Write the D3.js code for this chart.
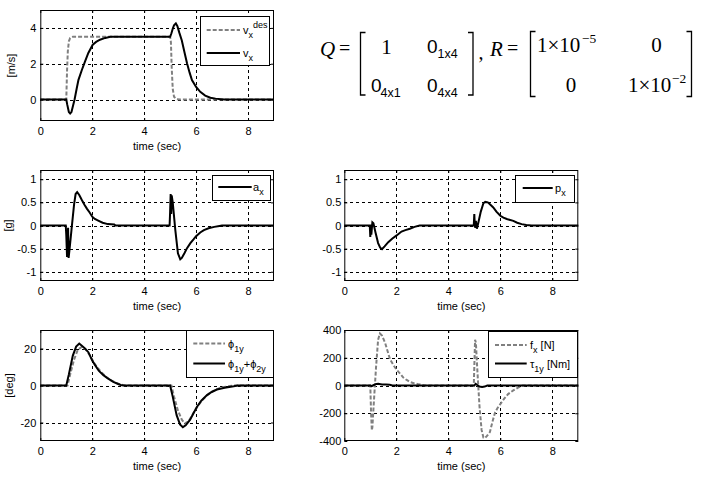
<!DOCTYPE html>
<html><head><meta charset="utf-8">
<script src="https://cdn.jsdelivr.net/npm/d3@7"></script>
<style>
body{margin:0;background:#fff}
svg{display:block}
text{font-family:"Liberation Sans",Arial,sans-serif;fill:#000}
</style>
</head><body>
<svg id="c" width="705" height="481"></svg>
<script>
// ---------- data ----------
const xTicks = [0, 2, 4, 6, 8];
const velTicks = [0, 2, 4];
const accTicks = [-1, -0.5, 0, 0.5, 1];
const angTicks = [-20, 0, 20];
const frcTicks = [-400, -200, 0, 200, 400];

// [time (sec), value]
const vxDes = [[0,0],[1.0,0],[1.03,1.6],[1.06,2.7],[1.1,3.25],[1.15,3.44],[1.25,3.5],[5.0,3.5],[5.03,3.2],[5.06,1.8],[5.1,0.6],[5.15,0.15],[5.25,0.02],[5.4,0],[9,0]];
const vx = [[0,0],[1.0,0],[1.04,-0.3],[1.1,-0.7],[1.15,-0.78],[1.2,-0.7],[1.26,-0.35],[1.32,0],[1.4,0.6],[1.47,1.1],[1.6,1.65],[1.72,2.12],[1.85,2.6],[2.02,3.06],[2.15,3.22],[2.3,3.34],[2.5,3.44],[2.7,3.5],[5.0,3.5],[5.05,3.7],[5.1,3.95],[5.15,4.15],[5.22,4.25],[5.28,4.1],[5.35,3.75],[5.45,3.3],[5.55,2.65],[5.65,2.03],[5.75,1.5],[5.84,1.09],[6.0,0.7],[6.16,0.43],[6.35,0.22],[6.55,0.1],[6.75,0.05],[6.95,0.02],[7.1,0],[9,0]];
const ax = [[0,0],[0.98,0],[1.0,-0.2],[1.03,-0.68],[1.05,-0.3],[1.07,-0.05],[1.09,-0.7],[1.12,-0.55],[1.2,-0.1],[1.3,0.45],[1.36,0.68],[1.42,0.72],[1.5,0.66],[1.6,0.55],[1.7,0.45],[1.8,0.36],[1.9,0.28],[2.0,0.19],[2.1,0.14],[2.25,0.1],[2.4,0.06],[2.6,0.03],[2.85,0.02],[2.9,0],[4.98,0],[5.0,0.3],[5.02,0.68],[5.04,0.25],[5.06,0.65],[5.1,0.5],[5.2,-0.1],[5.3,-0.6],[5.39,-0.73],[5.45,-0.7],[5.55,-0.6],[5.65,-0.49],[5.78,-0.38],[5.9,-0.3],[6.0,-0.23],[6.16,-0.15],[6.3,-0.1],[6.48,-0.06],[6.7,-0.03],[6.9,-0.01],[7.0,0],[9,0]];
const px = [[0,0],[0.98,0],[1.0,-0.25],[1.02,0.02],[1.04,-0.2],[1.08,0.07],[1.12,0.05],[1.2,-0.15],[1.3,-0.38],[1.38,-0.48],[1.45,-0.51],[1.55,-0.45],[1.69,-0.36],[1.85,-0.28],[2.0,-0.22],[2.2,-0.13],[2.35,-0.1],[2.52,-0.07],[2.7,-0.03],[2.9,0],[4.98,0],[5.0,0.25],[5.02,0.0],[5.04,-0.05],[5.06,0.1],[5.1,-0.07],[5.15,0.05],[5.25,0.3],[5.35,0.48],[5.42,0.51],[5.52,0.5],[5.6,0.46],[5.73,0.39],[5.85,0.3],[6.0,0.21],[6.12,0.17],[6.25,0.14],[6.5,0.1],[6.65,0.06],[6.82,0.03],[7.0,0.01],[7.2,0],[9,0]];
const phi1y = [[0,0],[1.05,0],[1.15,6],[1.3,14],[1.45,19.5],[1.6,20.8],[1.75,19.5],[1.9,16.5],[2.1,11.5],[2.3,8],[2.5,5],[2.7,3],[2.9,1.5],[3.1,0.5],[3.3,0],[5.05,0],[5.15,-6],[5.3,-13.5],[5.45,-18.5],[5.57,-20.5],[5.7,-19.5],[5.85,-16],[6.0,-12.5],[6.2,-8.5],[6.4,-5.5],[6.6,-3.5],[6.8,-2],[7.0,-1],[7.3,-0.3],[7.5,0],[9,0]];
const phiSum = [[0,0],[1.0,0],[1.1,6],[1.25,16],[1.38,21],[1.5,22.7],[1.6,21.5],[1.72,20],[1.85,18],[2.0,13.5],[2.11,11],[2.25,8],[2.43,5.6],[2.6,3.8],[2.81,2],[3.0,0.8],[3.1,0.3],[3.2,0],[5.0,0],[5.1,-6],[5.25,-16],[5.38,-21],[5.49,-22.5],[5.6,-21.5],[5.77,-18.5],[5.9,-15],[6.03,-11.6],[6.2,-8.2],[6.42,-5.2],[6.6,-3.5],[6.8,-2.2],[7.1,-1.2],[7.45,-0.4],[7.6,0],[9,0]];
const fx = [[0,0],[1.0,0],[1.03,-200],[1.06,-324],[1.08,-300],[1.15,-80],[1.22,130],[1.3,330],[1.37,375],[1.45,360],[1.57,307],[1.66,250],[1.76,188],[1.88,150],[2.0,116],[2.15,85],[2.27,57],[2.4,40],[2.52,26],[2.7,15],[2.84,10],[3.1,0],[4.98,0],[5.01,200],[5.03,330],[5.06,310],[5.12,100],[5.2,-150],[5.28,-320],[5.35,-375],[5.4,-380],[5.48,-365],[5.6,-336],[5.7,-260],[5.8,-193],[5.9,-160],[6.0,-134],[6.15,-95],[6.3,-62],[6.5,-35],[6.65,-19],[6.85,0],[9,0]];
const tau1y = [[0,0],[1.0,0],[1.05,-5],[1.1,0],[1.2,10],[1.3,12],[1.45,8],[1.6,8],[1.75,5],[1.85,0],[5.0,0],[5.05,12],[5.1,5],[5.2,-8],[5.3,-10],[5.4,-8],[5.5,0],[9,0]];

const xLabel = "time (sec)";

// ---------- drawing ----------
const svg = d3.select("#c");
const GRAY = "#808080";
const SANS = '"Liberation Sans",Arial,sans-serif';
const SERIF = '"Liberation Serif","Times New Roman",serif';
const fmt = d => String(d).replace("\u2212", "-");

// label parts: [text, kind] kind n=normal, b=sub, p=sup
const panels = [
  {box:[40.3,10,274,121], ydom:[-1.2,5], yt:velTicks, ylab:"[m/s]", ylx:11,
   series:[{d:vxDes,g:true},{d:vx}],
   leg:{box:[200,15.7,269.3,64.3], line:[206.7,240], tx:243, rows:[30,53],
        labels:[[["v","n"],["x","b"],["des","p"]],[["v","n"],["x","b"]]]}},
  {box:[40.3,170,274,281], ydom:[-1.2,1.2], yt:accTicks, ylab:"[g]", ylx:8,
   series:[{d:ax}],
   leg:{box:[211.7,175,269.3,200], line:[218.3,251.7], tx:253, rows:[187],
        labels:[[["a","n"],["x","b"]]]}},
  {box:[344.3,170,578.3,281], ydom:[-1.2,1.2], yt:accTicks, ylab:null,
   series:[{d:px}],
   leg:{box:[515,175,574,202], line:[522.7,552.7], tx:555, rows:[188],
        labels:[[["p","n"],["x","b"]]]}},
  {box:[40.3,330,274,441], ydom:[-30,30], yt:angTicks, ylab:"[deg]", ylx:9,
   series:[{d:phi1y,g:true},{d:phiSum}],
   leg:{box:[186,329.5,273.3,376], line:[193.3,225], tx:228, rows:[343.5,363.5],
        labels:[[["\u03D5","n"],["1y","b"]],[["\u03D5","n"],["1y","b"],["+","n"],["\u03D5","n"],["2y","b"]]]}},
  {box:[344.3,330,578.3,441], ydom:[-400,400], yt:frcTicks, ylab:null,
   series:[{d:fx,g:true},{d:tau1y}],
   leg:{box:[488.3,331,577.7,377], line:[495,526.7], tx:530, rows:[345,363.5],
        labels:[[["f","n"],["x","b"],[" [N]","n"]],[["\u03C4","n"],["1y","b"],[" [Nm]","n"]]]}}
];

function drawLabel(g, x, y, parts) {
  const t = g.append("text").attr("x", x).attr("y", y).style("font-size", "11px");
  let cur = 0;
  const off = {n:0, b:4, p:-6};
  parts.forEach(([s, k]) => {
    const target = off[k];
    t.append("tspan").attr("dy", target - cur)
      .style("font-size", k === "n" ? "11px" : "9px").text(s);
    cur = target;
  });
}

panels.forEach((p, i) => {
  const [L, T, R, B] = p.box;
  const x = d3.scaleLinear().domain([0, 9]).range([L, R]);
  const y = d3.scaleLinear().domain(p.ydom).range([B, T]);
  const g = svg.append("g");

  // grid
  const grid = g.append("g").attr("stroke", "#000").attr("stroke-width", 1)
    .attr("stroke-dasharray", "3,3").attr("shape-rendering", "crispEdges");
  xTicks.filter(v => v > 0).forEach(v => grid.append("line")
    .attr("x1", Math.round(x(v)) + 0.5).attr("x2", Math.round(x(v)) + 0.5).attr("y1", T).attr("y2", B));
  p.yt.filter(v => y(v) > T + 1 && y(v) < B - 1).forEach(v => grid.append("line")
    .attr("y1", Math.round(y(v)) + 0.5).attr("y2", Math.round(y(v)) + 0.5).attr("x1", L).attr("x2", R));

  // axes
  const ab = g.append("g").attr("transform", `translate(0,${B})`)
    .call(d3.axisBottom(x).tickValues(xTicks).tickSize(-3).tickSizeOuter(0).tickPadding(6).tickFormat(fmt));
  const at = g.append("g").attr("transform", `translate(0,${T})`)
    .call(d3.axisTop(x).tickValues(xTicks).tickSize(-3).tickSizeOuter(0).tickFormat(""));
  const al = g.append("g").attr("transform", `translate(${L},0)`)
    .call(d3.axisLeft(y).tickValues(p.yt).tickSize(-3).tickSizeOuter(0).tickPadding(L < 100 ? 4 : 3).tickFormat(fmt));
  const ar = g.append("g").attr("transform", `translate(${R},0)`)
    .call(d3.axisRight(y).tickValues(p.yt).tickSize(-3).tickSizeOuter(0).tickFormat(""));
  [ab, at, al, ar].forEach(a => {
    a.select(".domain").remove();
    a.selectAll("line").attr("stroke", "#000");
    a.selectAll("text").style("font-size", "11px").style("font-family", SANS);
  });

  // series
  const line = d3.line().x(d => x(d[0])).y(d => y(d[1]));
  p.series.forEach(s => {
    g.append("path").datum(s.d).attr("d", line).attr("fill", "none")
      .attr("stroke", s.g ? GRAY : "#000").attr("stroke-width", 2)
      .attr("stroke-dasharray", s.g ? "4,2" : null);
  });

  // frame
  g.append("rect").attr("x", L + 0.5).attr("y", T + 0.5).attr("width", R - L - 1).attr("height", B - T - 1)
    .attr("fill", "none").attr("stroke", "#000").attr("stroke-width", 1);

  // x label
  g.append("text").attr("x", (L + R) / 2).attr("y", B + 29).attr("text-anchor", "middle")
    .style("font-size", "11px").text(xLabel);
  // y label
  if (p.ylab) {
    g.append("text").attr("transform", `translate(${p.ylx + 4},${(T + B) / 2}) rotate(-90)`)
      .attr("text-anchor", "middle").style("font-size", "11px").text(p.ylab);
  }

  // legend
  const lg = p.leg;
  const [lx0, ly0, lx1, ly1] = lg.box;
  g.append("rect").attr("x", Math.round(lx0) + 0.5).attr("y", Math.round(ly0) + 0.5)
    .attr("width", Math.round(lx1 - lx0)).attr("height", Math.round(ly1 - ly0))
    .attr("fill", "#fff").attr("stroke", "#000").attr("stroke-width", 1);
  lg.rows.forEach((ry, k) => {
    const s = p.series[k];
    g.append("line").attr("x1", lg.line[0]).attr("x2", lg.line[1]).attr("y1", ry).attr("y2", ry)
      .attr("stroke", s.g ? GRAY : "#000").attr("stroke-width", 2)
      .attr("stroke-dasharray", s.g ? "4,2" : null);
    drawLabel(g, lg.tx, ry + 4, lg.labels[k]);
  });
});

// ---------- equation ----------
const eq = svg.append("g");
function txt(x, y, s, size, opts = {}) {
  const t = eq.append("text").attr("x", x).attr("y", y).style("font-size", size + "px")
    .style("font-family", opts.sans ? SANS : SERIF);
  if (opts.italic) t.style("font-style", "italic");
  if (opts.anchor) t.attr("text-anchor", opts.anchor);
  t.text(s);
  return t;
}
function bracket(x, y0, y1, dir) {
  eq.append("path").attr("d", `M${x + dir * 5},${y0} H${x} V${y1} H${x + dir * 5}`)
    .attr("fill", "none").attr("stroke", "#000").attr("stroke-width", 1.3);
}
// Q
txt(320, 56, "Q", 21, {italic: true});
txt(339, 55, "=", 20);
bracket(360.5, 32.5, 95, 1);
txt(386.5, 54, "1", 21, {anchor: "middle"});
txt(427, 53, "0", 19, {sans: true});
txt(437.5, 58, "1x4", 12.5, {sans: true});
txt(371, 91.5, "0", 19, {sans: true});
txt(380.5, 96.5, "4x1", 12.5, {sans: true});
txt(427, 91.5, "0", 19, {sans: true});
txt(437.5, 96.5, "4x4", 12.5, {sans: true});
bracket(473, 32.5, 95, -1);
txt(478.5, 59, ",", 20);
// R
txt(490, 56, "R", 21, {italic: true});
txt(507, 55, "=", 20);
bracket(530.5, 31.5, 96.5, 1);
txt(537, 52, "1\u00D710", 21);
txt(582, 43, "\u22125", 13.5);
txt(656.5, 52, "0", 21, {anchor: "middle"});
txt(571, 92, "0", 21, {anchor: "middle"});
txt(628, 92, "1\u00D710", 21);
txt(672, 83, "\u22122", 13.5);
bracket(691.5, 31.5, 96.5, -1);
</script>
</body></html>
